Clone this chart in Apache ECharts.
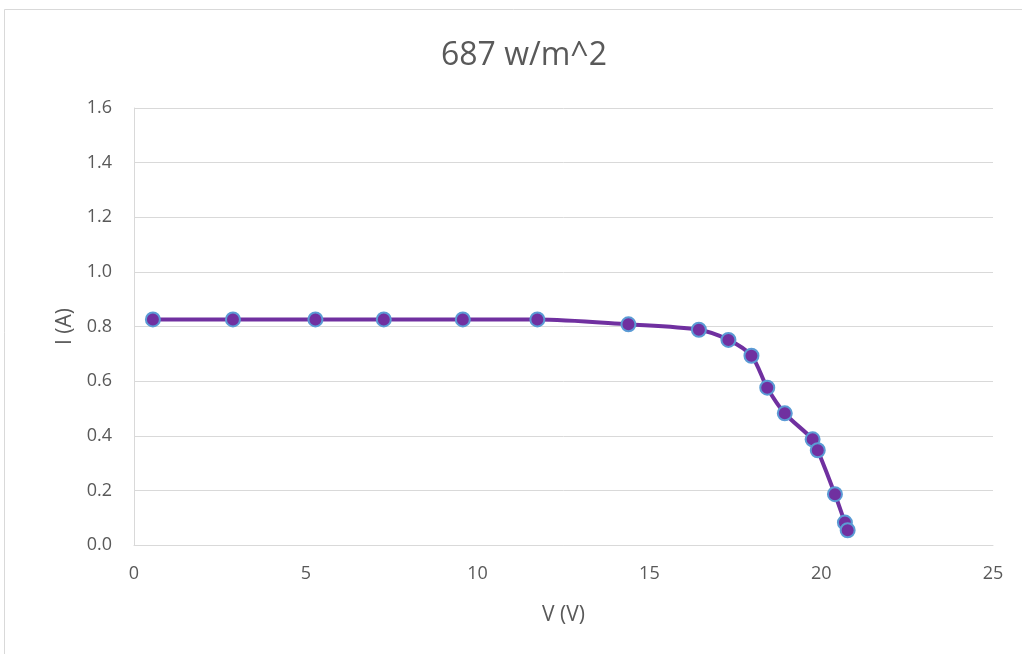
<!DOCTYPE html>
<html>
<head>
<meta charset="utf-8">
<script src="https://cdn.jsdelivr.net/npm/echarts@6/dist/echarts.min.js"></script>
<style>
  html, body { margin: 0; padding: 0; background: #fff; }
  #chart { width: 1022px; height: 654px; }
</style>
</head>
<body>
<div id="chart"></div>
<script>
// I-V curve measured at 687 W/m^2
const titleText = '687 w/m^2';
const voltage = [0.55, 2.88, 5.28, 7.27, 9.57, 11.74, 14.39, 16.44, 17.30, 17.97, 18.43, 18.94, 19.75, 19.90, 20.40, 20.69, 20.77];
const current = [0.826, 0.826, 0.826, 0.826, 0.826, 0.826, 0.808, 0.788, 0.751, 0.693, 0.576, 0.482, 0.387, 0.347, 0.186, 0.082, 0.054];
const xAxisName = 'V (V)';
const yAxisName = 'I (A)';

const points = voltage.map((v, i) => [v, current[i]]);
const textColor = '#595959';
const font = '"Open Sans", "Liberation Sans", sans-serif';

const chart = echarts.init(document.getElementById('chart'), null, { renderer: 'canvas' });
chart.setOption({
  backgroundColor: '#ffffff',
  animation: false,
  graphic: [{
    type: 'rect',
    shape: { x: 4.5, y: 9.5, width: 1030, height: 660 },
    style: { fill: 'none', stroke: '#d9d9d9', lineWidth: 1 },
    silent: true
  }],
  title: {
    text: titleText,
    left: 436,
    top: 35,
    textStyle: { color: textColor, fontSize: 32, fontWeight: 'normal', fontFamily: font }
  },
  grid: { left: 134, right: 29, top: 108, bottom: 109, containLabel: false },
  xAxis: {
    type: 'value',
    min: 0, max: 25, interval: 5,
    name: xAxisName,
    nameLocation: 'middle',
    nameGap: 60,
    nameTextStyle: { color: textColor, fontSize: 21, fontFamily: font },
    axisLine: { show: true, lineStyle: { color: '#d9d9d9', width: 1 } },
    axisTick: { show: false },
    axisLabel: { color: textColor, fontSize: 18, margin: 20, fontFamily: font },
    splitLine: { show: false }
  },
  yAxis: {
    type: 'value',
    min: 0, max: 1.6, interval: 0.2,
    name: yAxisName,
    nameLocation: 'middle',
    nameGap: 58,
    nameRotate: 90,
    nameTextStyle: { color: textColor, fontSize: 21, fontFamily: font },
    axisLine: { show: true, lineStyle: { color: '#d9d9d9', width: 1 } },
    axisTick: { show: false },
    axisLabel: {
      color: textColor, fontSize: 18, margin: 22, fontFamily: font,
      formatter: v => v.toFixed(1)
    },
    splitLine: { show: true, lineStyle: { color: '#d9d9d9', width: 1 } }
  },
  series: [{
    type: 'line',
    data: points,
    smooth: 0.3,
    symbol: 'circle',
    symbolSize: 14,
    lineStyle: { color: '#7030a0', width: 4 },
    itemStyle: { color: '#7030a0', borderColor: '#5b9bd5', borderWidth: 2 },
    z: 3
  }]
});
</script>
</body>
</html>
